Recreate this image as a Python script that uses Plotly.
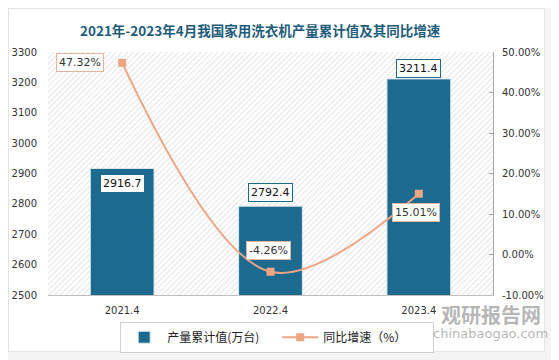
import base64
import plotly.graph_objects as go

categories = ["2021.4", "2022.4", "2023.4"]
output_values = [2916.7, 2792.4, 3211.4]
growth_values = [47.32, -4.26, 15.01]
left_ticks = [2500, 2600, 2700, 2800, 2900, 3000, 3100, 3200, 3300]
right_ticks = [-10, 0, 10, 20, 30, 40, 50]

BAR = "#1D6A8F"
LINE = "#EFA584"


def svg_uri(s):
    return "data:image/svg+xml;base64," + base64.b64encode(s.encode()).decode()


# hatched plot background
hatch = svg_uri(
    '<svg xmlns="http://www.w3.org/2000/svg" width="445" height="243" '
    'preserveAspectRatio="none"><defs><pattern id="p" width="4" height="4" '
    'patternUnits="userSpaceOnUse" patternTransform="rotate(45)">'
    '<rect width="4" height="4" fill="#ffffff"/>'
    '<line x1="0" y1="0" x2="0" y2="4" stroke="#d6d6d6" stroke-width="1.3"/>'
    '</pattern></defs><rect width="445" height="243" fill="url(#p)"/></svg>')
card = svg_uri(
    '<svg xmlns="http://www.w3.org/2000/svg" width="537" height="344" '
    'preserveAspectRatio="none"><rect x="0.5" y="0.5" width="536" height="343" '
    'fill="#ffffff" stroke="#e2e2e2" stroke-width="1"/></svg>')

fig = go.Figure()
fig.add_trace(go.Bar(
    x=categories, y=output_values, name="产量累计值(万台)",
    marker=dict(color=BAR, line=dict(color="#dfe8ee", width=1)),
    width=0.43, yaxis="y",
))
fig.add_trace(go.Scatter(
    x=categories, y=growth_values, name="同比增速（%）", yaxis="y2",
    mode="lines+markers", line=dict(color=LINE, width=2, shape="spline", smoothing=1),
    marker=dict(symbol="square", size=8, color=LINE),
))

ann = []
bar_shifts = [-15, 14, 10]
for i, (v, s) in enumerate(zip(output_values, bar_shifts)):
    ann.append(dict(x=i, y=v, xref="x", yref="y", text=f"{v:.1f}", showarrow=False, yshift=s,
                    font=dict(family="DejaVu Sans", size=11, color="#111111"),
                    bgcolor="white", bordercolor=BAR, borderwidth=1, borderpad=2))
pct_shifts = [(-42, 0), (-2, 21), (-3, -19)]
for i, (v, (xs, ys)) in enumerate(zip(growth_values, pct_shifts)):
    ann.append(dict(x=i, y=v, xref="x", yref="y2", text=f"{v:.2f}%", showarrow=False,
                    xshift=xs, yshift=ys,
                    font=dict(family="DejaVu Sans", size=11, color="#333333"),
                    bgcolor="white", bordercolor="#e2b4a0", borderwidth=1, borderpad=2))
ann.append(dict(xref="paper", yref="paper", x=0.477, y=1.09, xanchor="center", yanchor="middle",
                text="<b>2021年-2023年4月我国家用洗衣机产量累计值及其同比增速</b>",
                showarrow=False, font=dict(family="Noto Sans CJK SC", size=13.5, color="#1E5C7C")))
ann.append(dict(xref="paper", yref="paper", x=0.995, y=-0.082, xanchor="center", yanchor="middle",
                text="<b>观研报告网</b>",
                showarrow=False, font=dict(family="Noto Sans CJK SC", size=20, color="rgba(150,150,150,0.7)")))
ann.append(dict(xref="paper", yref="paper", x=0.995, y=-0.157, xanchor="center", yanchor="middle",
                text="chinabaogao.com",
                showarrow=False, font=dict(family="DejaVu Sans", size=13, color="rgba(150,150,150,0.7)")))

# the page places the figure 8px in from the window's top-left corner
fig.update_layout(
    width=551, height=352,
    margin=dict(l=40, r=66, t=44, b=65, autoexpand=False),
    paper_bgcolor="#f4f4f4", plot_bgcolor="white",
    bargap=0.57, showlegend=True,
    annotations=ann,
    images=[
        dict(source=card, xref="paper", yref="paper", x=-0.09, y=1.181, sizex=1.207, sizey=1.416,
             xanchor="left", yanchor="top", sizing="stretch", layer="below"),
        dict(source=hatch, xref="paper", yref="paper", x=0, y=1, sizex=1, sizey=1,
             xanchor="left", yanchor="top", sizing="stretch", layer="below"),
    ],
    xaxis=dict(type="category", range=[-0.5, 2.5], showgrid=False, showline=True,
               linecolor="#bfbfbf", ticks="", ticklabelstandoff=6,
               tickfont=dict(family="DejaVu Sans", size=10, color="#333333")),
    yaxis=dict(range=[2500, 3300], tickvals=left_ticks, showgrid=False, zeroline=False,
               showline=False, ticks="", ticklabelstandoff=10,
               tickfont=dict(family="DejaVu Sans", size=10, color="#333333")),
    yaxis2=dict(range=[-10, 50], tickvals=right_ticks, ticktext=[f"{t:.2f}%" for t in right_ticks],
                overlaying="y", side="right", showgrid=False, zeroline=False,
                showline=True, linecolor="#a6a6a6", ticks="inside", ticklen=4, tickcolor="#a6a6a6",
                ticklabelstandoff=6,
                tickfont=dict(family="DejaVu Sans", size=10, color="#333333")),
    legend=dict(orientation="h", x=0.515, xanchor="center", y=-0.11, yanchor="top",
                bordercolor="#d0d0d0", borderwidth=1, bgcolor="white",
                font=dict(family="Noto Sans CJK SC", size=12, color="#222222"),
                entrywidth=105, itemwidth=36),
)

fig.write_html("out.html")
